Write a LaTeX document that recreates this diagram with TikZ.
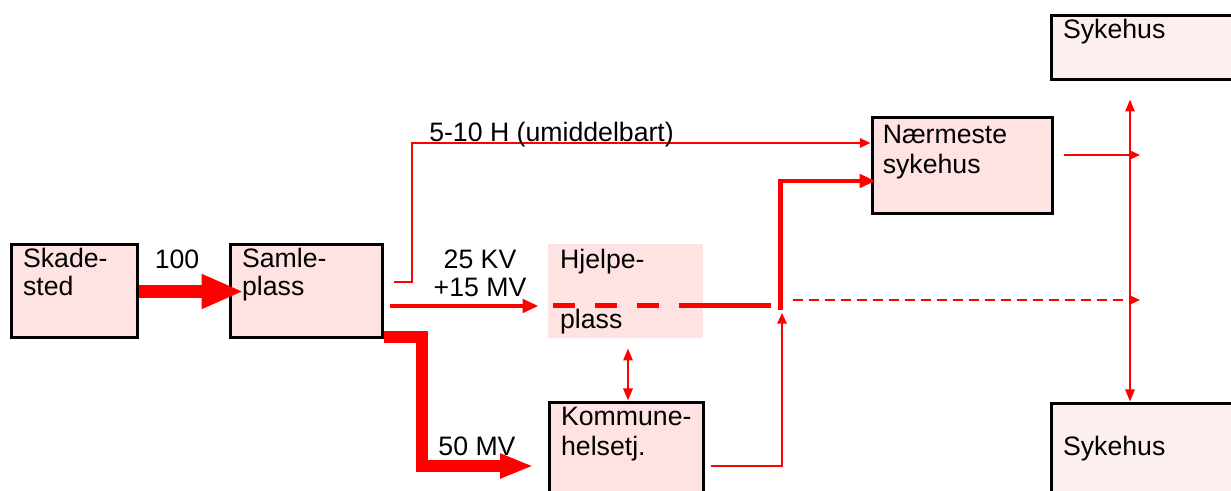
\documentclass[tikz,border=0pt]{standalone}
\usepackage{fontspec}
\setmainfont{Liberation Sans}
\usetikzlibrary{arrows.meta}
\definecolor{boxcol}{HTML}{FFE3E3}
\definecolor{hospcol}{HTML}{FDEFEF}
\definecolor{flowcol}{HTML}{FF0000}

\begin{document}
\begin{tikzpicture}[x=0.75pt, y=-0.75pt, font=\fontsize{20}{21}\selectfont,
  place/.style={draw=black, line width=2.25pt, fill=#1, inner sep=0pt},
  txt/.style={anchor=north west, align=left, inner sep=0pt, xshift=10pt, yshift=-3pt},
  lab/.style={anchor=north, align=center, inner sep=0pt},
  thinflow/.style={-{Triangle[length=8pt, width=7pt]}, line width=1.5pt, flowcol},
  both/.style={{Triangle[length=9pt, width=7pt]}-{Triangle[length=9pt, width=7pt]}},
  midflow/.style={-{Triangle[length=12pt, width=10pt]}, line width=3.5pt, flowcol},
  bigflow/.style={-{Triangle[length=#1]}, line width=10pt, flowcol, line join=miter}]
\clip (0,0) rectangle (1231,491);
% places
\node[place=boxcol, minimum width=94.5pt, minimum height=69.75pt,
  label={[txt]north west:Skade-\\sted}] (skade) at (74,291.5) {};
\node[place=boxcol, minimum width=114pt, minimum height=69.75pt,
  label={[txt]north west:Samle-\\plass}] (samle) at (306,291.5) {};
\node[place=boxcol, draw=none, minimum width=116.25pt, minimum height=70.5pt,
  label={[txt, yshift=-2pt]north west:Hjelpe-\\[24pt]plass}] (hjelpe) at (625.5,291) {};
\node[place=boxcol, minimum width=115.5pt, minimum height=75pt,
  label={[txt, yshift=-2pt]north west:Kommune-\\[1.5pt]helsetj.}] (kommune) at (626,452) {};
\node[place=boxcol, minimum width=135pt, minimum height=72pt,
  label={[txt, xshift=-1pt, yshift=-3pt]north west:Nærmeste\\[2pt]sykehus}] (naer) at (962,166) {};
% hospitals further away
\node[place=hospcol, minimum width=141.75pt, minimum height=48pt,
  label={[txt]north west:Sykehus}] (syke1) at (1145.5,48) {};
\node[place=hospcol, minimum width=141.75pt, minimum height=72.75pt,
  label={[txt, yshift=-23pt]north west:Sykehus}] (syke2) at (1145.5,451.5) {};
% junction points
\coordinate (jn) at (780.5,310);
\coordinate (rail1) at (1140,155);
\coordinate (rail2) at (1140,300);
% flows out of Samleplass
\draw[bigflow={31.5pt 0 0, width=24pt}] (skade.east) -- ([shift={(15,0)}]samle.west);
\node[lab] (n100) at (177,250) {100};
\draw[thinflow] ([shift={(10,-9.5)}]samle.east) -- ++(18,0) |- ([shift={(0,-23)}]naer.west);
\node[anchor=north west, inner sep=0pt] (hlab) at (429,122) {5-10 H (umiddelbart)};
\draw[midflow, line width=3pt] ([shift={(6,14.5)}]samle.east) -- ([shift={(-8,15)}]hjelpe.west);
\node[lab] (kvlab) at (480,250) {25 KV\\+15 MV};
\draw[bigflow={25pt 0 0, width=17pt}, line width=9pt] ([shift={(0,45.5)}]samle.east)
  -- ++(38,0) |- ([shift={(-14,14)}]kommune.west);
\node[lab] (mvlab) at (477,437) {50 MV};
% Hjelpeplass on to hospital
\draw[flowcol, line width=3.75pt, dash pattern=on 16.5pt off 15pt]
  ([shift={(6,15)}]hjelpe.west) -- ++(108,0);
\draw[flowcol, line width=3.75pt] ([shift={(132,15)}]hjelpe.west) -- ([shift={(-10,-4)}]jn);
\draw[midflow] (jn) |- ([shift={(5,15)}]naer.west);
\draw[thinflow, both] ([shift={(2.5,9)}]hjelpe.south) -- ([shift={(2,0)}]kommune.north);
\draw[thinflow] ([shift={(6,14)}]kommune.east) -| ([shift={(1.5,3)}]jn);
% distribution to other hospitals
\draw[thinflow] ([shift={(10,-11)}]naer.east) -- (rail1);
\draw[thinflow, dash pattern=on 8pt off 4pt] ([shift={(12,-10)}]jn) -- (rail2);
\draw[thinflow, both] ([shift={(-15.5,18)}]syke1.south) -- ([shift={(-15.5,0)}]syke2.north);
\end{tikzpicture}
\end{document}
